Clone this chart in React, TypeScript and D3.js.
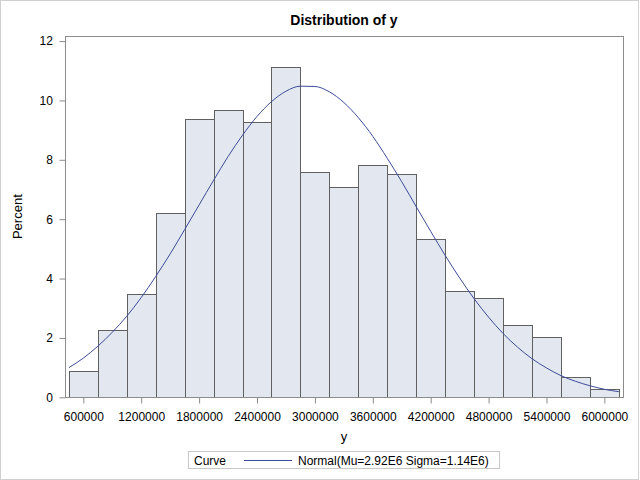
import React, { useEffect, useRef } from 'react'
import * as d3 from 'd3'

// bin midpoints (bin width 300000) and percent per bin
const binMids = [600000, 900000, 1200000, 1500000, 1800000, 2100000, 2400000, 2700000, 3000000, 3300000,
    3600000, 3900000, 4200000, 4500000, 4800000, 5100000, 5400000, 5700000, 6000000]
const percents = [0.89, 2.26, 3.48, 6.21, 9.37, 9.67, 9.29, 11.14, 7.58, 7.10,
    7.81, 7.51, 5.32, 3.57, 3.33, 2.43, 2.02, 0.67, 0.27]
const binWidth = 300000

// normal curve, read along y
const curveX = [450000, 600000, 750000, 900000, 1050000, 1200000, 1350000, 1500000, 1650000, 1800000,
    1950000, 2100000, 2250000, 2400000, 2550000, 2700000, 2850000, 3000000, 3150000, 3300000,
    3450000, 3600000, 3750000, 3900000, 4050000, 4200000, 4350000, 4500000, 4650000, 4800000,
    4950000, 5100000, 5250000, 5400000, 5550000, 5700000, 5850000, 6000000, 6150000]
const curveY = [1.00, 1.32, 1.72, 2.19, 2.73, 3.36, 4.07, 4.83, 5.65, 6.48,
    7.31, 8.11, 8.83, 9.46, 9.96, 10.31, 10.48, 10.47, 10.29, 9.93,
    9.42, 8.79, 8.05, 7.26, 6.42, 5.59, 4.78, 4.02, 3.32, 2.70,
    2.15, 1.69, 1.30, 0.99, 0.73, 0.54, 0.39, 0.27, 0.19]

const xTicks = [600000, 1200000, 1800000, 2400000, 3000000, 3600000, 4200000, 4800000, 5400000, 6000000]
const yTicks = [0, 2, 4, 6, 8, 10, 12]

const title = 'Distribution of y'
const legendLabel = 'Normal(Mu=2.92E6 Sigma=1.14E6)'

const W = 640
const H = 480
const font = "'Liberation Sans', Arial, sans-serif"

const App = () => {
    const svgRef = useRef<SVGSVGElement>(null)

    useEffect(() => {
        document.body.style.margin = '0'
        const svg = d3.select(svgRef.current)
        svg.selectAll('*').remove()

        const left = 65, right = 623, top = 36, bottom = 397.3

        const x = d3.scaleLinear().domain([410000, 6193000]).range([left, right])
        const y = d3.scaleLinear().domain([0, 12.17]).range([bottom, top])

        // outer border
        svg.append('rect')
            .attr('x', 0.5).attr('y', 0.5)
            .attr('width', W - 2).attr('height', H - 1)
            .attr('fill', 'white')
            .attr('stroke', '#d0d0d0')

        svg.append('text')
            .attr('x', (left + right) / 2).attr('y', 25)
            .attr('text-anchor', 'middle')
            .style('font-family', font)
            .style('font-weight', 'bold')
            .style('font-size', '14px')
            .text(title)

        // bars
        svg.append('g')
            .selectAll('rect')
            .data(binMids)
            .join('rect')
            .attr('x', (d: number) => Math.round(x(d - binWidth / 2)) + 0.5)
            .attr('y', (d: number, i: number) => Math.round(y(percents[i])) + 0.5)
            .attr('width', (d: number) => Math.round(x(d + binWidth / 2)) - Math.round(x(d - binWidth / 2)))
            .attr('height', (d: number, i: number) => Math.round(bottom) - Math.round(y(percents[i])))
            .attr('fill', '#e3e7f0')
            .attr('stroke', '#606060')

        // normal curve
        const line = d3.line<number>()
            .x((d: number) => x(d))
            .y((d: number, i: number) => y(curveY[i]))
            .curve(d3.curveMonotoneX)
        svg.append('path')
            .datum(curveX)
            .attr('d', line)
            .attr('fill', 'none')
            .attr('stroke', '#3c4b9a')
            .attr('stroke-width', 1)

        // frame
        svg.append('rect')
            .attr('x', left + 0.5).attr('y', top + 0.5)
            .attr('width', right - left).attr('height', Math.round(bottom) - top)
            .attr('fill', 'none')
            .attr('stroke', '#8c8c8c')

        const xAxis = svg.append('g')
            .attr('transform', `translate(0,${Math.round(bottom) + 0.5})`)
            .call(d3.axisBottom(x).tickValues(xTicks).tickSize(6).tickSizeOuter(0).tickFormat(d3.format('d')))
        const yAxis = svg.append('g')
            .attr('transform', `translate(${left + 0.5},0)`)
            .call(d3.axisLeft(y).tickValues(yTicks).tickSize(6).tickSizeOuter(0))

        for (const ax of [xAxis, yAxis]) {
            ax.select('.domain').remove()
            ax.selectAll('line').attr('stroke', '#8c8c8c')
            ax.selectAll('text')
                .style('font-family', font)
                .style('font-size', '12px')
                .attr('fill', '#000')
        }
        xAxis.selectAll('text').attr('dy', '1.2em')
        yAxis.selectAll('text').attr('dx', '-0.3em')

        svg.append('text')
            .attr('x', (left + right) / 2).attr('y', 441)
            .attr('text-anchor', 'middle')
            .style('font-family', font)
            .style('font-size', '13px')
            .text('y')

        svg.append('text')
            .attr('transform', `translate(22,${(top + bottom) / 2}) rotate(-90)`)
            .attr('text-anchor', 'middle')
            .style('font-family', font)
            .style('font-size', '13px')
            .text('Percent')

        // legend
        const lg = svg.append('g')
        lg.append('rect')
            .attr('x', 188.5).attr('y', 451.5)
            .attr('width', 311).attr('height', 17)
            .attr('fill', 'white')
            .attr('stroke', '#c8c8c8')
        lg.append('text')
            .attr('x', 194).attr('y', 464.5)
            .style('font-family', font)
            .style('font-size', '12px')
            .text('Curve')
        lg.append('line')
            .attr('x1', 244).attr('x2', 292)
            .attr('y1', 460.5).attr('y2', 460.5)
            .attr('stroke', '#3c4b9a')
        lg.append('text')
            .attr('x', 298).attr('y', 464.5)
            .style('font-family', font)
            .style('font-size', '12px')
            .text(legendLabel)
    }, [])

    return (
        <svg ref={svgRef} width={W} height={H} style={{ display: 'block' }} />
    )
}

export default App
